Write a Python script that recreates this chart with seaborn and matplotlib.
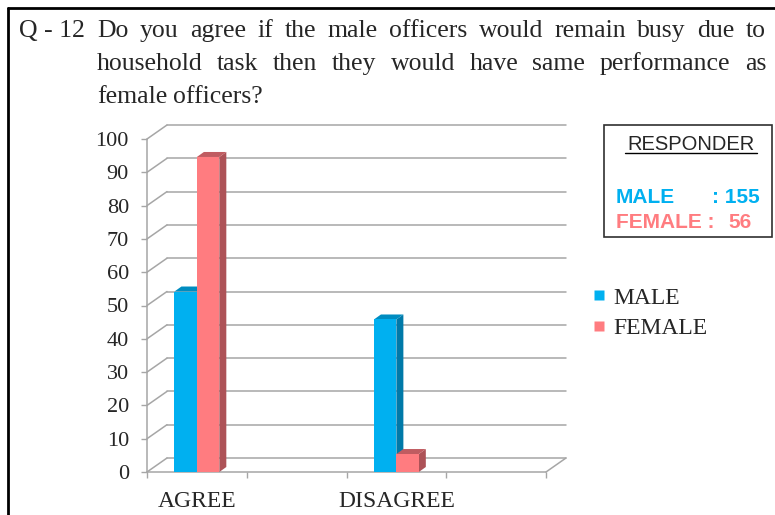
import matplotlib
matplotlib.use("Agg")
import matplotlib.pyplot as plt
from matplotlib.patches import Polygon, Rectangle
from matplotlib.lines import Line2D
import numpy as np
import pandas as pd
import seaborn as sns

# ---- data -------------------------------------------------------------
slots = ["AGREE", "", "DISAGREE", " "]          # category slots on the floor
responses = ["AGREE", "DISAGREE"]
genders = ["MALE", "FEMALE"]
male_pct = [54.2, 45.8]
female_pct = [94.6, 5.4]
responder_counts = {"MALE": 155, "FEMALE": 56}
y_ticks = [0, 10, 20, 30, 40, 50, 60, 70, 80, 90, 100]

title_tag = "Q - 12"
title_lines = [
    "Do you agree if the male officers would remain busy due to",
    "household task then they would have same performance as",
    "female officers?",
]

df = pd.DataFrame({
    "response": responses * 2,
    "gender": [genders[0]] * len(responses) + [genders[1]] * len(responses),
    "percent": male_pct + female_pct,
})

# ---- style ------------------------------------------------------------
sns.set_style("white")
plt.rcParams["font.family"] = ["Liberation Serif", "DejaVu Serif"]

MALE_C = "#00b0f0"
FEMALE_C = "#ff7c80"
GRID_C = "#a6a6a6"
side_colors = {MALE_C: "#0079a8", FEMALE_C: "#ad5257"}
top_colors = {MALE_C: "#008cc0", FEMALE_C: "#c05c61"}

W, H = 775, 515
fig = plt.figure(figsize=(W / 100, H / 100), dpi=100)


def fx(px):
    return px / W


def fy(py):
    return 1 - py / H


# front plane of the chart, in pixels
X0, X1 = 147, 546
Y0, Y100 = 472, 139
ax = fig.add_axes([fx(X0), fy(Y0), (X1 - X0) / W, (Y0 - Y100) / H])

sns.barplot(data=df, x="response", y="percent", hue="gender",
            order=slots, hue_order=genders, palette=[MALE_C, FEMALE_C],
            width=0.45, saturation=1, legend=False, ax=ax,
            edgecolor="none", linewidth=0, errorbar=None)
ax.set_xlim(-0.5, len(slots) - 0.5)
ax.set_ylim(0, 100)

px_x = (X1 - X0) / len(slots)      # pixels per x unit
px_y = (Y0 - Y100) / 100           # pixels per y unit

# depth of the walls and of the bars, converted to data units
wall_dx, wall_dy = 20 / px_x, 14 / px_y
bar_dx, bar_dy = 7 / px_x, 5 / px_y

# back wall gridlines and left wall diagonals
xl, xr = -0.5, len(slots) - 0.5
for t in y_ticks:
    ax.add_line(Line2D([xl + wall_dx, xr + wall_dx], [t + wall_dy, t + wall_dy],
                       color=GRID_C, lw=1.1, zorder=0.5, clip_on=False))
    ax.add_line(Line2D([xl, xl + wall_dx], [t, t + wall_dy],
                       color=GRID_C, lw=1.1, zorder=0.5, clip_on=False))
# left wall edge and floor
ax.add_line(Line2D([xl, xl], [0, 100], color=GRID_C, lw=1.1, zorder=0.6, clip_on=False))
ax.add_line(Line2D([xl, xr], [0, 0], color=GRID_C, lw=1.1, zorder=0.6, clip_on=False))
ax.add_line(Line2D([xr, xr + wall_dx], [0, wall_dy], color=GRID_C, lw=1.1,
                   zorder=0.6, clip_on=False))

# give each bar a top and a side face
for p in list(ax.patches):
    if not isinstance(p, Rectangle) or p.get_height() <= 0:
        continue
    x0, w, h = p.get_x(), p.get_width(), p.get_height()
    fc = matplotlib.colors.to_hex(p.get_facecolor()).lower()
    p.set_zorder(3)
    p.set_clip_on(False)
    side = Polygon([(x0 + w, 0), (x0 + w + bar_dx, bar_dy),
                    (x0 + w + bar_dx, h + bar_dy), (x0 + w, h)],
                   closed=True, fc=side_colors.get(fc, fc), ec="none",
                   zorder=2, clip_on=False)
    top = Polygon([(x0, h), (x0 + w, h), (x0 + w + bar_dx, h + bar_dy),
                   (x0 + bar_dx, h + bar_dy)],
                  closed=True, fc=top_colors.get(fc, fc), ec="none",
                  zorder=2, clip_on=False)
    ax.add_patch(side)
    ax.add_patch(top)

for s in ax.spines.values():
    s.set_visible(False)

ax.set_xlabel("")
ax.set_ylabel("")
ax.set_yticks(y_ticks)
ax.set_yticklabels([str(t) for t in y_ticks], fontsize=16)
ax.tick_params(axis="y", left=True, direction="out", length=4, width=1,
               color=GRID_C, pad=9)
ax.set_xticks([0, 2])
ax.set_xticklabels([slots[0], slots[2]], fontsize=17)
ax.set_xticks(np.arange(-0.5, len(slots), 1.0), minor=True)
ax.tick_params(axis="x", which="major", bottom=True, length=0, pad=14)
ax.tick_params(axis="x", which="minor", bottom=True, direction="out",
               length=4.5, width=1, color=GRID_C)
ax.grid(False)

# legend
handles = [Line2D([], [], ls="none", marker="s", markersize=7, mfc=MALE_C, mec="none"),
           Line2D([], [], ls="none", marker="s", markersize=7, mfc=FEMALE_C, mec="none")]
fig.legend(handles, genders, loc="center left", bbox_to_anchor=(fx(592), fy(313)),
           frameon=False, fontsize=17, handlelength=0.6, handletextpad=0.3,
           labelspacing=0.38, borderpad=0, borderaxespad=0)

# responder box
fig.patches.append(Rectangle((fx(604), fy(237)), (772 - 604) / W, (237 - 125) / H,
                             transform=fig.transFigure, fill=False,
                             ec="#303030", lw=1.2))
sans = ["Liberation Sans", "DejaVu Sans"]
fig.text(fx(691), fy(150), "RESPONDER", family=sans, fontsize=14.5,
         ha="center", va="baseline")
fig.add_artist(Line2D([fx(625), fx(757)], [fy(153), fy(153)], color="black",
                      lw=1, transform=fig.transFigure))
fig.text(fx(616), fy(203), "MALE", family=sans, fontsize=15, weight="bold",
         color=MALE_C, va="baseline")
fig.text(fx(712), fy(203), f": {responder_counts['MALE']}", family=sans,
         fontsize=15, weight="bold", color=MALE_C, va="baseline")
fig.text(fx(616), fy(228), "FEMALE :", family=sans, fontsize=15, weight="bold",
         color=FEMALE_C, va="baseline")
fig.text(fx(728), fy(228), f"{responder_counts['FEMALE']}", family=sans,
         fontsize=15, weight="bold", color=FEMALE_C, va="baseline")

# outer frame (top and left edges)
fig.add_artist(Line2D([fx(8), fx(W + 5)], [fy(8), fy(8)], color="black", lw=2,
                      transform=fig.transFigure))
fig.add_artist(Line2D([fx(8), fx(8)], [fy(8), fy(H + 5)], color="black", lw=2,
                      transform=fig.transFigure))

# question text, justified between two margins
renderer = fig.canvas.get_renderer()
TITLE_SIZE = 18.5
fig.text(fx(19), fy(37), title_tag, fontsize=TITLE_SIZE, va="baseline")


def justified_line(words, left, right, baseline, justify=True):
    arts = [fig.text(0, fy(baseline), w_, fontsize=TITLE_SIZE, va="baseline")
            for w_ in words]
    widths = [a.get_window_extent(renderer).width for a in arts]
    if justify and len(words) > 1:
        gap = (right - left - sum(widths)) / (len(words) - 1)
    else:
        gap = 6
    x = left
    for a, wd in zip(arts, widths):
        a.set_x(fx(x))
        x += wd + gap


baselines = [37, 70, 103]
for i, line in enumerate(title_lines):
    justified_line(line.split(), 97, 766, baselines[i], justify=(i < len(title_lines) - 1))

fig.savefig("out.png", dpi=100, facecolor="white")
